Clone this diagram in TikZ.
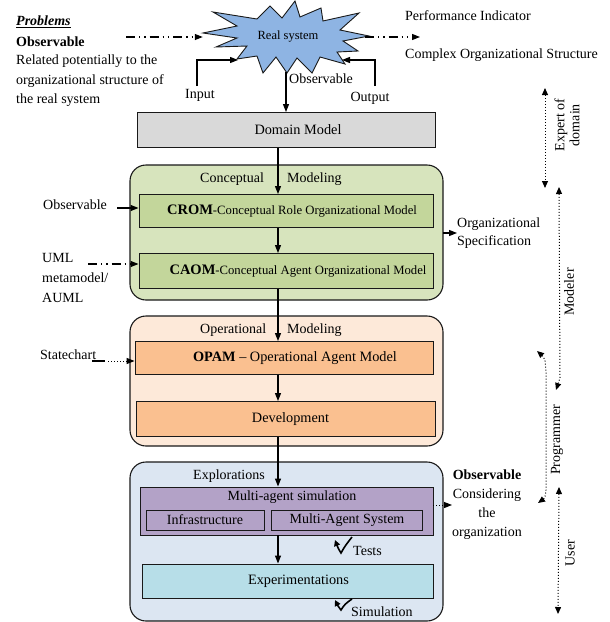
\documentclass[tikz,border=0pt]{standalone}
\usepackage{fontspec}
\setmainfont{Liberation Serif}
\usetikzlibrary{arrows.meta,calc}
\definecolor{starblue}{HTML}{8EB4E3}
\definecolor{dmgray}{HTML}{D9D9D9}
\definecolor{cgreen}{HTML}{D7E4BD}
\definecolor{cgreenin}{HTML}{C3D69B}
\definecolor{opeach}{HTML}{FDE9D9}
\definecolor{opeachin}{HTML}{FAC090}
\definecolor{exblue}{HTML}{DCE6F2}
\definecolor{mpurple}{HTML}{B3A2C7}
\definecolor{excyan}{HTML}{B7DEE8}
\begin{document}
\begin{tikzpicture}[x=1pt,y=-1pt,
  font=\fontsize{14}{16}\selectfont,
  box/.style={draw=black!90, line width=0.9pt, inner sep=0pt},
  outer/.style={draw=black!90, line width=1.1pt, rounded corners=16pt},
  arr/.style={-{Triangle[length=8pt,width=6pt]}, line width=1.2pt},
  dashdot/.style={line width=1.2pt, dash pattern=on 9pt off 4pt on 1.3pt off 4pt on 1.3pt off 4pt},
  dotarr/.style={dotted, line width=1pt},
  lbl/.style={inner sep=0pt, anchor=west},
  bt/.style={font=\fontsize{14.3}{16}\selectfont}]
\useasboundingbox (0,0) rectangle (610,622);

% ---------- outer stage boxes ----------
\draw[outer, fill=cgreen] (130,165) rectangle (443,300);
\draw[outer, fill=opeach] (130,316) rectangle (443,446);
\draw[outer, fill=exblue] (130,462) rectangle (443,621);

% ---------- star ----------
\draw[fill=starblue, draw=black!90, line width=0.9pt]
 (203,33) -- (237,26) -- (213,12) -- (257,19) -- (270,6) -- (282,18) -- (295,1) -- (300,17)
 -- (321,8) -- (323,21) -- (359,13) -- (340,30) -- (369,36) -- (343,41) -- (358,51) -- (337,52)
 -- (345,64) -- (320,57) -- (312,73) -- (297,58) -- (287,73) -- (276,57) -- (263,73) -- (257,56)
 -- (237,59) -- (247,46) -- (216,47) -- (237,38) -- cycle;
\node[minimum width=166pt, minimum height=66pt, inner sep=0pt] (star) at (286,39) {};
\node[font=\fontsize{12.5}{14}\selectfont] (real) at (288,37) {Real system};

% ---------- top-left text ----------
\node[lbl] (prob) at (16,22) {\underline{\textbf{\textit{Problems}}}};
\node[lbl] (obs0) at (16,42) {\textbf{Observable}};
\node[lbl, anchor=north west, align=left, font=\fontsize{14}{19.5}\selectfont] (rel) at (16,55)
  {Related potentially to the\\organizational structure of\\the real system};

% ---------- top-right text ----------
\node[lbl] (perf) at (405,16) {Performance Indicator};
\node[lbl] (cos) at (405,55) {Complex Organizational Structure};

\coordinate (dL) at (126,37);
\draw[dashdot] (dL) -- (198,37);
\draw[arr] (197,37) -- (star.west |- 0,37);
\coordinate (dR) at (420,37);
\draw[dashdot, -{Triangle[length=8pt,width=6pt]}] (365,37) -- (dR);

% ---------- input / output ----------
\coordinate (inA) at (197,86);
\coordinate (inB) at (238,60);
\draw[arr] (inA) |- (inB);
\node (inp) at (200,95) {Input};
\coordinate (outA) at (375,86);
\coordinate (outB) at (342,60);
\draw[arr] (outA) |- (outB);
\node (outp) at (370,98) {Output};

% ---------- domain model ----------
\node[box, fill=dmgray, minimum width=298pt, minimum height=35pt] (dm) at (286,130) {};
\node[bt] (dmt) at ([xshift=12pt]dm.center) {Domain Model};
\draw[arr] (star.south) -- (star.south |- dm.north);
\node[lbl] (obs1) at (289,79) {Observable};

% ---------- conceptual ----------
\node[lbl] (conc) at (200,179) {Conceptual};
\node[lbl] (mod1) at (287,179) {Modeling};
\node[box, fill=cgreenin, minimum width=294pt, minimum height=33pt] (crom) at (286,211) {};
\node (cromt) at ([xshift=6pt]crom.center)
  {\textbf{\fontsize{14.5}{16}\selectfont CROM}{\fontsize{12.7}{15}\selectfont-Conceptual Role Organizational Model}};
\node[box, fill=cgreenin, minimum width=294pt, minimum height=35pt] (caom) at (286,271) {};
\node (caomt) at ([xshift=12pt]caom.center)
  {\textbf{\fontsize{14.5}{16}\selectfont CAOM}{\fontsize{12.7}{15}\selectfont-Conceptual Agent Organizational Model}};
\draw[arr] ([xshift=-8pt]dm.south) -- ([xshift=-8pt]crom.north);
\draw[arr] ([xshift=-8pt]crom.south) -- ([xshift=-8pt]caom.north);

\node[lbl] (obs2) at (43,205) {Observable};
\draw[arr] (117,208) -- (crom.west |- 0,208);

\node[lbl, anchor=north west, align=left, font=\fontsize{14}{20}\selectfont] (uml) at (42,253) {UML\\metamodel/\\AUML};
\draw[dashdot, -{Triangle[length=8pt,width=6pt]}] (88,264) -- (caom.west |- 0,264);

\node[lbl, anchor=north west, align=left, font=\fontsize{14}{18}\selectfont] (orgspec) at (457,218) {Organizational\\Specification};
\draw[arr] (443,233) -- (orgspec.west |- 0,233);

% ---------- operational ----------
\node[lbl] (oper) at (200,330) {Operational};
\node[lbl] (mod2) at (287,330) {Modeling};
\node[box, fill=opeachin, minimum width=298pt, minimum height=33pt] (opam) at (284,358) {};
\node[bt] (opamt) at ([xshift=11pt]opam.center) {\textbf{OPAM} -- Operational Agent Model};
\node[box, fill=opeachin, minimum width=299pt, minimum height=35pt] (dev) at (285.5,419) {};
\node[bt] (devt) at ([xshift=5pt]dev.center) {Development};
\draw[arr] ([xshift=-8pt]caom.south) -- ([xshift=-8pt]caom.south |- opam.north);
\draw[arr] ([xshift=-6pt]opam.south) -- ([xshift=-6pt]opam.south |- dev.north);

\node[lbl] (state) at (40,355) {Statechart};
\draw[line width=1.2pt] (92,361) -- (105,361);
\draw[dotarr, -{Triangle[length=8pt,width=6pt]}] (108,361) -- (opam.west |- 0,361);

% ---------- explorations ----------
\node[lbl] (expl) at (193,476) {Explorations};
\node[box, fill=mpurple, minimum width=293pt, minimum height=48pt] (mas) at (286.5,511) {};
\node (mastitle) at (292,497) {Multi-agent simulation};
\node[box, fill=mpurple, minimum width=118pt, minimum height=20pt] (infra) at (205,520) {Infrastructure};
\node[box, fill=mpurple, minimum width=151pt, minimum height=20pt] (masys) at (347,520) {Multi-Agent System};
\draw[arr] ([xshift=-7.5pt]dev.south) -- ([xshift=-7.5pt]dev.south |- mas.north);
\node[box, fill=excyan, minimum width=291pt, minimum height=34pt] (exper) at (287.5,581) {};
\node[bt] (expert) at ([xshift=11pt]exper.center) {Experimentations};
\draw[arr] ([xshift=-8.5pt]mas.south) -- ([xshift=-8.5pt]mas.south |- exper.north);

\node[anchor=north, align=center, inner sep=0pt, font=\fontsize{14}{19}\selectfont] (consid) at (487,470)
  {\textbf{Observable}\\Considering\\the\\organization};
\draw[dotarr, -{Triangle[length=8pt,width=6pt]}] (mas.east |- 0,505) -- (452,505);

% tests / simulation marks
\coordinate (t1) at (335,540);
\draw[line width=1.6pt, {Triangle[length=6pt,width=6pt]}-] (t1) .. controls (338,548) .. (341,553) .. controls (345,546) .. (352,537);
\node[lbl] (tests) at (353,551) {Tests};
\coordinate (s1) at (335,600);
\draw[line width=1.6pt, {Triangle[length=6pt,width=6pt]}-] (s1) .. controls (338,606) .. (341,610) .. controls (345,604) .. (352,599);
\node[lbl] (simu) at (351,612) {Simulation};

% ---------- right side roles ----------
\coordinate (e1) at (545,88);
\coordinate (e2) at (545,188);
\draw[dotarr, {Triangle[length=7pt,width=6pt]}-{Triangle[length=7pt,width=6pt]}] (e1) -- (e2);
\node[rotate=90, align=center, inner sep=0pt, font=\fontsize{14}{15}\selectfont] (experttext) at (567,125) {Expert of\\domain};

\coordinate (m1) at (559,187);
\coordinate (m2) at (556,390);
\draw[dotarr, {Triangle[length=7pt,width=6pt]}-{Triangle[length=7pt,width=6pt]}] (m1) -- (560,378) -- (m2);
\node[rotate=90, inner sep=0pt] (modeler) at (569,292) {Modeler};

\coordinate (p1) at (537,351);
\coordinate (p2) at (538,503);
\draw[dotarr, {Triangle[length=7pt,width=6pt]}-{Triangle[length=7pt,width=6pt]}] (p1) .. controls (545,358) .. (546,372) -- (546,490) .. controls (545,498) .. (p2);
\node[rotate=90, inner sep=0pt] (prog) at (557,440) {Programmer};

\coordinate (u1) at (559,487);
\coordinate (u2) at (558,614);
\draw[dotarr, {Triangle[length=7pt,width=6pt]}-{Triangle[length=7pt,width=6pt]}] (u1) -- (u2);
\node[rotate=90, inner sep=0pt] (user) at (570,553) {User};
\end{tikzpicture}
\end{document}
